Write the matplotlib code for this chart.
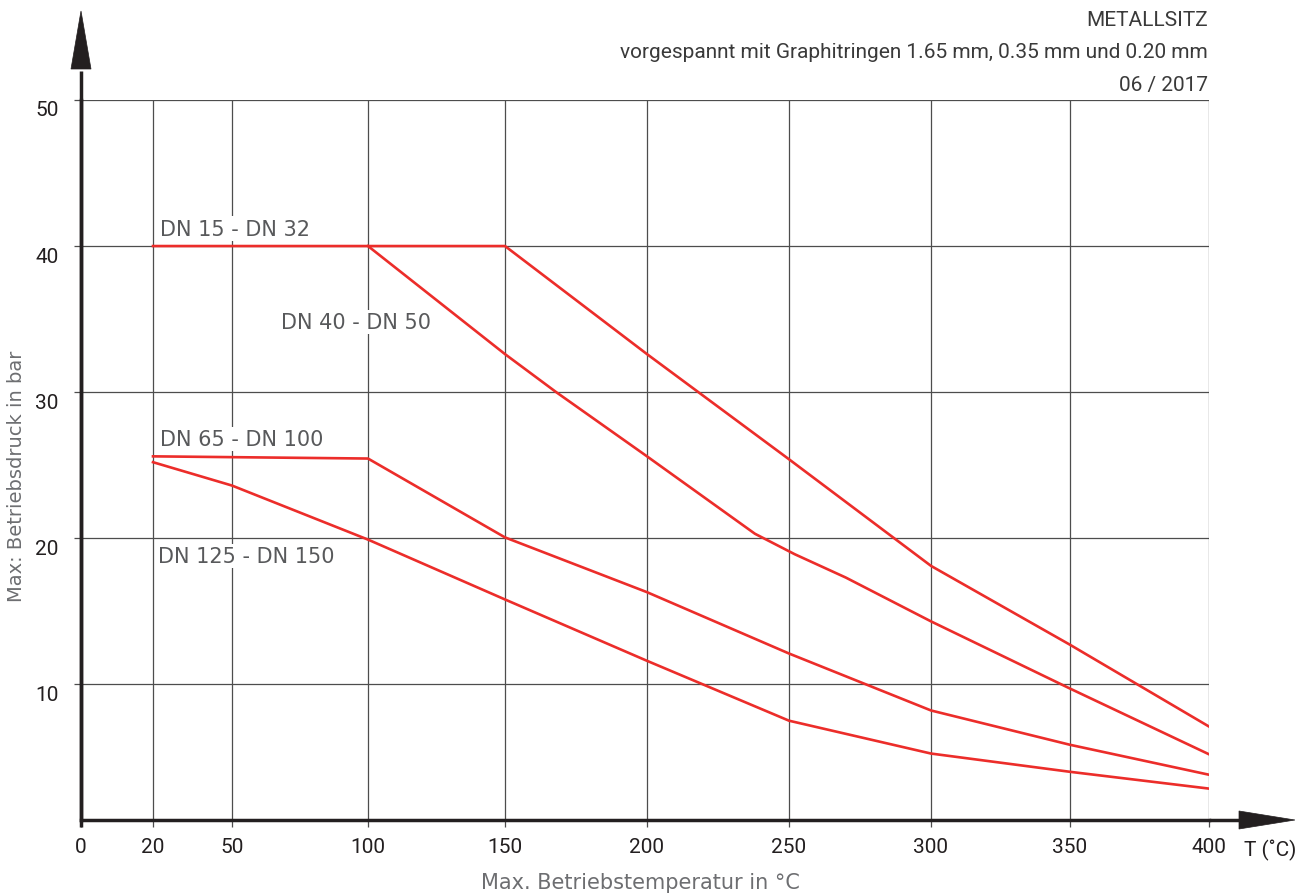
import numpy as np
import matplotlib
matplotlib.use("Agg")
import matplotlib.pyplot as plt
from matplotlib.patches import Polygon
from matplotlib.lines import Line2D
import matplotlib.transforms as mtransforms

plt.rcParams['font.family'] = ['Roboto', 'DejaVu Sans']

# ---------------- data ----------------
x_ticks = [0, 20, 50, 100, 150, 200, 250, 300, 350, 400]
x_tick_labels = ["0", "20", "50", "100", "150", "200", "250", "300", "350", "400"]
y_ticks = [10, 20, 30, 40, 50]
y_tick_labels = ["10", "20", "30", "40", "50"]

t_dn15 = [20, 150, 200, 250, 300, 350, 400]
p_dn15 = [40.0, 40.0, 32.6, 25.4, 18.1, 12.7, 7.1]

t_dn40 = [100, 150, 168, 200, 238, 245, 252, 270, 300, 350, 400]
p_dn40 = [40.0, 32.6, 30.0, 25.6, 20.3, 19.6, 18.9, 17.3, 14.3, 9.7, 5.2]

t_dn65 = [20, 100, 150, 200, 250, 300, 350, 400]
p_dn65 = [25.6, 25.45, 20.05, 16.3, 12.1, 8.2, 5.85, 3.8]

t_dn125 = [20, 50, 100, 150, 200, 250, 300, 350, 400]
p_dn125 = [25.2, 23.6, 19.9, 15.8, 11.6, 7.5, 5.25, 4.0, 2.85]

series_names = ["DN 15 - DN 32", "DN 40 - DN 50", "DN 65 - DN 100", "DN 125 - DN 150"]

title_lines = ["METALLSITZ",
               "vorgespannt mit Graphitringen 1.65 mm, 0.35 mm und 0.20 mm",
               "06 / 2017"]
x_label = "Max. Betriebstemperatur in °C"
y_label = "Max: Betriebsdruck in bar"
x_unit = "T (˚C)"

# non-uniform temperature axis (drawing scale of the original chart)
scale_temps = [0, 20, 50, 100, 150, 200, 250, 300, 350, 400]
scale_pos = [0, 72, 151, 287, 424, 566, 708, 850, 989, 1128]


def fwd(x):
    return np.interp(x, scale_temps, scale_pos)


def inv(y):
    return np.interp(y, scale_pos, scale_temps)


# ---------------- figure ----------------
W, H = 1295, 895
fig = plt.figure(figsize=(W / 100, H / 100), dpi=100)
L, R, T, B = 81, 1209, 101, 821
ax = fig.add_axes([L / W, 1 - B / H, (R - L) / W, (B - T) / H])

ax.set_xscale('function', functions=(fwd, inv))
ax.set_xlim(0, 400)
ax.set_ylim(0.7, 50)

RED = '#ec2d2a'
for t, p in [(t_dn15, p_dn15), (t_dn40, p_dn40), (t_dn65, p_dn65), (t_dn125, p_dn125)]:
    ax.plot(t, p, color=RED, lw=1.9, zorder=4, solid_joinstyle='round')

ax.set_xticks(x_ticks)
ax.set_xticklabels(x_tick_labels)
ax.set_yticks(y_ticks)
ax.set_yticklabels(y_tick_labels)
ax.grid(True, color='#4d4d4d', lw=0.9, zorder=1)
ax.set_axisbelow(True)

AXC = '#231f20'
for s in ['top', 'right']:
    ax.spines[s].set_visible(False)
for s in ['left', 'bottom']:
    ax.spines[s].set_color(AXC)
    ax.spines[s].set_linewidth(2.5)
    ax.spines[s].set_zorder(5)

ax.tick_params(axis='both', length=5, width=0.9, color='#4d4d4d',
               labelsize=15, labelcolor=AXC)
ax.tick_params(axis='x', pad=7)
ax.tick_params(axis='y', pad=11)
off = mtransforms.ScaledTranslation(0, -8 / 100, fig.dpi_scale_trans)
for lab in ax.get_yticklabels():
    lab.set_transform(lab.get_transform() + off)

# series labels
LBLC = '#58595b'
lbl_pos = [(22.7, 41.2), (68, 34.8), (22.7, 26.8), (22.0, 18.8)]
for name, (lx, ly) in zip(series_names, lbl_pos):
    ax.text(lx, ly, name, color=LBLC, fontsize=15, family='DejaVu Sans',
            ha='left', va='center', zorder=3,
            bbox=dict(facecolor='white', edgecolor='none', pad=1.5))


# axis arrows in figure pixel coordinates
def fp(x, y):
    return (x / W, 1 - y / H)


ln = Line2D([fp(L, 0)[0], fp(L, 0)[0]], [fp(0, 828)[1], fp(0, 72)[1]],
            transform=fig.transFigure, color=AXC, lw=2.5, solid_capstyle='butt')
fig.add_artist(ln)
ln2 = Line2D([fp(R, 0)[0], fp(1242, 0)[0]], [fp(0, B)[1], fp(0, B)[1]],
             transform=fig.transFigure, color=AXC, lw=2.5, solid_capstyle='butt')
fig.add_artist(ln2)
fig.add_artist(Polygon([fp(L - 10, 70), fp(L + 10, 70), fp(L, 12)], closed=True,
                       transform=fig.transFigure, facecolor=AXC, edgecolor=AXC, lw=0.5))
fig.add_artist(Polygon([fp(1239, B - 9), fp(1239, B + 9), fp(1295, B)], closed=True,
                       transform=fig.transFigure, facecolor=AXC, edgecolor=AXC, lw=0.5))

fig.text(*fp(1244, 850), x_unit, ha='left', va='center', fontsize=15, color=AXC)

# axis titles
GRY = '#6d6e71'
fig.text(*fp(640, 883), x_label, ha='center', va='center', fontsize=15,
         color=GRY, family='DejaVu Sans')
fig.text(*fp(17, 476), y_label, ha='center', va='center', rotation=90,
         fontsize=14, color=GRY, family='DejaVu Sans')

# header text, right aligned
HC = '#3a3a3a'
ys = [20, 52, 85]
texts = []
for s, y in zip(title_lines, ys):
    texts.append(fig.text(*fp(1208, y), s, ha='right', va='center',
                          fontsize=15, color=HC))
fig.canvas.draw()
r = fig.canvas.get_renderer()
w = texts[1].get_window_extent(r).width
scale = 590 / w
for tx in texts:
    tx.set_fontsize(15 * scale)

fig.savefig('out.png', dpi=100)
